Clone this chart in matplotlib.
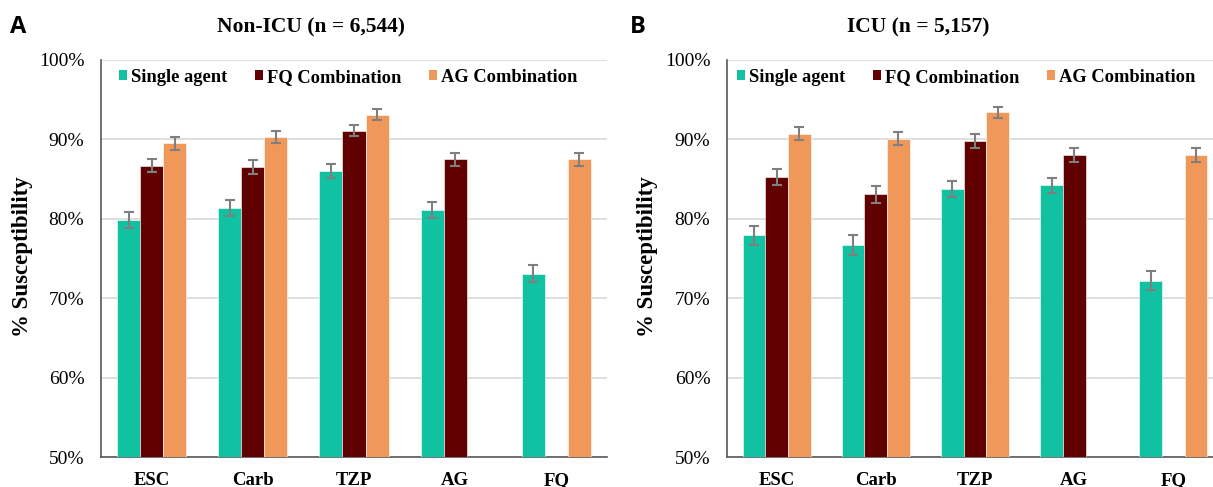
import numpy as np
import matplotlib
matplotlib.use("Agg")
import matplotlib.pyplot as plt
from matplotlib.patches import Patch
from matplotlib.ticker import FuncFormatter

categories = ["ESC", "Carb", "TZP", "AG", "FQ"]
series_names = ["Single agent", "FQ Combination", "AG Combination"]
colors = ["#10C2A2", "#600000", "#F0985A"]

# Panel A: Non-ICU
nonicu_single = [79.8, 81.4, 86.0, 81.1, 73.1]
nonicu_fq = [86.7, 86.5, 91.1, 87.5, np.nan]
nonicu_ag = [89.5, 90.3, 93.1, np.nan, 87.5]
nonicu_single_err = [1.0, 1.0, 0.9, 1.0, 1.1]
nonicu_fq_err = [0.85, 0.85, 0.7, 0.8, np.nan]
nonicu_ag_err = [0.8, 0.75, 0.7, np.nan, 0.8]

# Panel B: ICU
icu_single = [77.9, 76.7, 83.7, 84.2, 72.2]
icu_fq = [85.3, 83.1, 89.8, 88.0, np.nan]
icu_ag = [90.7, 90.1, 93.4, np.nan, 88.0]
icu_single_err = [1.15, 1.2, 1.0, 1.0, 1.2]
icu_fq_err = [1.0, 1.05, 0.85, 0.9, np.nan]
icu_ag_err = [0.8, 0.85, 0.7, np.nan, 0.9]

yticks = [50, 60, 70, 80, 90, 100]

serif = ["Liberation Serif", "DejaVu Serif"]

fig = plt.figure(figsize=(12.13, 4.87), dpi=100)
W, H = 1213, 487
axA = fig.add_axes([101 / W, 1 - 457 / H, 506 / W, 397 / H])
axB = fig.add_axes([727 / W, 1 - 457 / H, 496 / W, 397 / H])

def draw(ax, vals, errs, leg_x):
    x = np.arange(len(categories))
    w = 0.228
    for i, (v, e) in enumerate(zip(vals, errs)):
        v = np.array(v, dtype=float)
        e = np.array(e, dtype=float)
        xs = x + (i - 1) * w
        m = ~np.isnan(v)
        ax.bar(xs[m], v[m] - 50, bottom=50, width=w, color=colors[i],
               edgecolor="white", linewidth=0.4, zorder=3)
        ax.errorbar(xs[m], v[m], yerr=e[m], fmt="none", ecolor="#7F7F7F",
                    elinewidth=1.5, capsize=3.5, capthick=1.5, zorder=4)
    ax.set_xlim(-0.5, len(categories) - 0.5)
    ax.set_ylim(50, 100)
    ax.set_yticks(yticks)
    ax.yaxis.set_major_formatter(FuncFormatter(lambda v, p: f"{int(v)}%"))
    ax.set_xticks(x)
    ax.set_xticklabels(categories, fontfamily=serif, fontweight="bold", fontsize=13.5)
    for lab in ax.get_yticklabels():
        lab.set_fontfamily(serif)
        lab.set_fontsize(14)
    ax.tick_params(axis="x", length=0, pad=11)
    ax.tick_params(axis="y", length=0, pad=12)
    ax.grid(axis="y", color="#D9D9D9", linewidth=1.2, zorder=0)
    ax.set_axisbelow(True)
    for s in ["top", "right"]:
        ax.spines[s].set_visible(False)
    for s in ["left", "bottom"]:
        ax.spines[s].set_color("#595959")
        ax.spines[s].set_linewidth(1.2)
    handles = [Patch(facecolor=c, edgecolor="none") for c in colors]
    ax.legend(handles, series_names, loc="center left", bbox_to_anchor=(leg_x, 0.957),
              ncol=3, frameon=False, handlelength=0.45, handleheight=0.45,
              handletextpad=0.2, columnspacing=1.5, borderpad=0, borderaxespad=0,
              prop={"family": serif, "weight": "bold", "size": 13.3})

draw(axA, [nonicu_single, nonicu_fq, nonicu_ag],
     [nonicu_single_err, nonicu_fq_err, nonicu_ag_err], 18 / 506)
draw(axB, [icu_single, icu_fq, icu_ag],
     [icu_single_err, icu_fq_err, icu_ag_err], 10 / 496)

ylab_kw = dict(ha="center", va="center", rotation=90, fontfamily=serif,
               fontweight="bold", fontsize=16.5)
fig.text(23 / W, 1 - 257 / H, "% Susceptibility", **ylab_kw)
fig.text(647 / W, 1 - 257 / H, "% Susceptibility", **ylab_kw)

title_kw = dict(ha="center", va="center", fontfamily=serif, fontweight="bold",
                fontsize=15.5)
fig.text(311 / W, 1 - 27 / H, "Non-ICU (n = 6,544)", **title_kw)
fig.text(918 / W, 1 - 27 / H, "ICU (n = 5,157)", **title_kw)
fig.text(10 / W, 1 - 27 / H, "A", ha="left", va="center",
         fontfamily="Open Sans", fontweight="bold", fontsize=17)
fig.text(630 / W, 1 - 27 / H, "B", ha="left", va="center",
         fontfamily="Open Sans", fontweight="bold", fontsize=17)

fig.savefig("out.png", dpi=100)
